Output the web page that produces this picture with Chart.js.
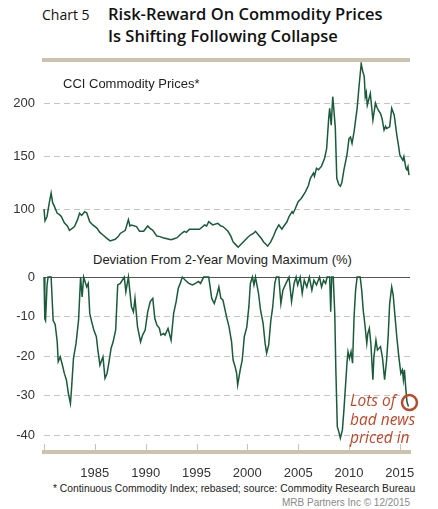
<!DOCTYPE html>
<html>
<head>
<meta charset="utf-8">
<script src="https://cdn.jsdelivr.net/npm/chart.js@4"></script>
<style>
  body { margin: 0; background: #fff; width: 438px; height: 509px; position: relative; overflow: hidden;
         font-family: "Liberation Sans", Arial, sans-serif; }
  .abs { position: absolute; white-space: nowrap; }
  #chartNo { left: 42px; top: 5px; font: 14px "Open Sans", sans-serif; color: #111; }
  #title { left: 108px; top: 3px; font: 600 16.5px/22px "Open Sans", sans-serif; color: #111; }
  #rule { left: 42px; top: 58px; width: 368px; height: 4px; background: #cbc3ad; }
  #topLabel { left: 63px; top: 76px; font-size: 13px; line-height: 15px; color: #222; }
  #botLabel { left: 93px; top: 252px; font-size: 13px; line-height: 15px; color: #222; }
  #note { left: 350px; top: 391px; font: italic 15.5px/18.5px "Open Sans", sans-serif; color: #b84a2c; }
  #foot { left: 53px; top: 482px; font-size: 10.3px; line-height: 13px; color: #222; }
  #credit { right: 28px; top: 496px; font-size: 10px; line-height: 13px; color: #8a8a8a; }
  canvas { position: absolute; left: 0; }
  #cciChart { top: 62px; }
  #devChart { top: 268px; }
</style>
</head>
<body>
<div class="abs" id="chartNo">Chart 5</div>
<div class="abs" id="title">Risk-Reward On Commodity Prices<br>Is Shifting Following Collapse</div>
<div class="abs" id="rule"></div>
<canvas id="cciChart" width="438" height="190"></canvas>
<canvas id="devChart" width="438" height="212"></canvas>
<div class="abs" id="topLabel">CCI Commodity Prices*</div>
<div class="abs" id="botLabel">Deviation From 2-Year Moving Maximum (%)</div>
<div class="abs" id="note">Lots of<br>bad news<br>priced in</div>
<div class="abs" id="foot">* Continuous Commodity Index; rebased; source: Commodity Research Bureau</div>
<div class="abs" id="credit">MRB Partners Inc © 12/2015</div>
<script>
// CCI commodity prices (rebased)
const cciYears = [1980.0, 1980.1, 1980.3, 1980.5, 1980.7, 1980.85, 1981.0, 1981.3, 1981.5, 1981.7,
  1982.0, 1982.3, 1982.5, 1982.8, 1983.0, 1983.3, 1983.5, 1983.7, 1984.0, 1984.2,
  1984.5, 1984.8, 1985.2, 1985.5, 1985.8, 1986.1, 1986.5, 1987.0, 1987.3, 1987.5,
  1988.0, 1988.3, 1988.45, 1988.6, 1989.1, 1989.4, 1989.8, 1990.2, 1990.4, 1990.7,
  1991.1, 1991.4, 1991.7, 1992.1, 1992.5, 1992.8, 1993.1, 1993.4, 1993.8, 1994.0,
  1994.3, 1994.8, 1995.3, 1995.8, 1996.0, 1996.2, 1996.6, 1997.1, 1997.4, 1997.6,
  1998.1, 1998.4, 1998.6, 1998.9, 1999.1, 1999.4, 1999.6, 2000.0, 2000.3, 2000.6,
  2000.8, 2001.1, 2001.4, 2001.6, 2001.8, 2002.0, 2002.3, 2002.6, 2002.8, 2003.1,
  2003.4, 2003.6, 2003.9, 2004.1, 2004.4, 2004.5, 2004.7, 2005.0, 2005.3, 2005.7,
  2006.0, 2006.2, 2006.5, 2006.6, 2006.8, 2007.0, 2007.3, 2007.6, 2007.8, 2008.0,
  2008.1, 2008.25, 2008.4, 2008.5, 2008.65, 2008.8, 2009.0, 2009.15, 2009.3, 2009.5,
  2009.8, 2010.0, 2010.15, 2010.3, 2010.5, 2010.8, 2011.0, 2011.2, 2011.35, 2011.5,
  2011.6, 2011.7, 2011.8, 2012.1, 2012.35, 2012.6, 2012.75, 2012.9, 2013.1, 2013.25,
  2013.45, 2013.6, 2013.7, 2014.0, 2014.2, 2014.45, 2014.7, 2014.9, 2015.0, 2015.3,
  2015.4, 2015.6, 2015.7, 2015.8, 2015.9];
const cciValues = [100, 89, 93, 105, 115, 106, 103, 96, 95, 93,
  87, 84, 80, 82, 83.5, 90, 96, 94, 97.5, 96.5,
  88, 85, 82, 78, 75.5, 73, 70, 71.5, 74, 77,
  80, 90, 84, 85, 83.5, 79, 79, 84, 82, 80,
  74.5, 74, 73, 72, 71, 72, 73, 76, 79, 78,
  81, 81, 81, 85, 84, 88, 85, 86.5, 84, 83.5,
  79, 74, 69, 66, 64, 67, 69, 73, 75.5, 77,
  79, 75.5, 72, 69, 67, 65, 69, 75, 80, 85,
  81, 84, 88, 93, 97.5, 96, 100, 107, 110, 116,
  122, 129, 134, 131, 138.5, 137, 140.5, 148, 157, 185,
  195, 179, 206, 195, 177.5, 129, 123, 121.5, 125, 137,
  151, 166.5, 168, 162, 173, 195, 217, 237, 230, 225,
  206, 210, 198, 209, 184, 200, 196, 193, 190, 185.5,
  174.5, 178, 176, 177.5, 195, 188.5, 170, 158, 151, 146,
  149.5, 138.5, 137, 140, 132];

// deviation from 2-year moving maximum (%)
const devYears = [1980.0, 1980.08, 1980.15, 1980.3, 1980.4, 1980.7, 1980.9, 1981.1, 1981.3, 1981.4,
  1981.6, 1981.85, 1982.0, 1982.2, 1982.4, 1982.6, 1982.7, 1982.9, 1983.15, 1983.4,
  1983.6, 1983.75, 1983.9, 1984.2, 1984.35, 1984.5, 1984.65, 1984.9, 1985.15, 1985.3,
  1985.5, 1985.8, 1986.0, 1986.2, 1986.4, 1986.6, 1986.8, 1987.05, 1987.25, 1987.5,
  1987.7, 1987.9, 1988.05, 1988.3, 1988.6, 1988.8, 1988.95, 1989.2, 1989.5, 1989.7,
  1989.95, 1990.2, 1990.45, 1990.7, 1990.9, 1991.1, 1991.35, 1991.5, 1991.75, 1991.9,
  1992.2, 1992.5, 1992.75, 1993.0, 1993.2, 1993.4, 1993.6, 1993.9, 1994.25, 1994.6,
  1994.9, 1995.2, 1995.4, 1995.7, 1996.2, 1996.5, 1996.75, 1997.0, 1997.2, 1997.4,
  1997.6, 1997.95, 1998.2, 1998.45, 1998.6, 1998.8, 1998.95, 1999.05, 1999.3, 1999.5,
  1999.7, 1999.95, 2000.15, 2000.3, 2000.5, 2000.65, 2000.8, 2001.1, 2001.3, 2001.55,
  2001.75, 2001.9, 2002.1, 2002.3, 2002.5, 2002.7, 2002.85, 2003.1, 2003.3, 2003.5,
  2003.8, 2004.1, 2004.35, 2004.6, 2004.8, 2004.95, 2005.2, 2005.4, 2005.6, 2005.85,
  2006.1, 2006.35, 2006.55, 2006.8, 2007.1, 2007.3, 2007.5, 2007.7, 2007.85, 2008.1,
  2008.2, 2008.3, 2008.45, 2008.6, 2008.7, 2008.85, 2009.0, 2009.15, 2009.35, 2009.5,
  2009.65, 2009.8, 2009.9, 2010.05, 2010.2, 2010.35, 2010.5, 2010.65, 2010.8, 2011.1,
  2011.25, 2011.4, 2011.55, 2011.75, 2011.85, 2012.0, 2012.15, 2012.35, 2012.45, 2012.65,
  2012.8, 2013.1, 2013.3, 2013.5, 2013.7, 2013.85, 2014.0, 2014.2, 2014.35, 2014.5,
  2014.7, 2014.9, 2015.1, 2015.25, 2015.35, 2015.45, 2015.6, 2015.7, 2015.85];
const devValues = [0, -10.5, -11, -2, 0, 0, -11, -12, -16.4, -21.4,
  -20.2, -22.7, -24.4, -26, -29.5, -32, -28.6, -20.6, -16.8, -10.9,
  0, -5, 0, -2.5, -1.6, -9.2, -10.9, -13.4, -15.1, -18.5,
  -22.3, -20.2, -25.6, -24.4, -21.4, -18, -16.4, -13.4, -2, -1.6,
  -0.8, 0, -3.7, 0, -7.5, -8.8, -5.4, -12.6, -16.4, -14.7,
  -13.4, -8.8, -6.2, -5.4, -10.5, -12.1, -13, -14.7, -14.3, -14.7,
  -13, -16, -9.2, -6.2, -2.9, -1.6, 0, -0.8, -1.6, -2,
  -1.6, -1.1, -1.6, 0, 0, -5.4, -6.7, -4.6, -2.5, -5.4,
  -5.8, -10, -12.6, -16.4, -21, -22.7, -24.4, -27.3, -23.5, -21,
  -15.1, -12.6, -7.5, -1.6, 0, -2, 0, -4.1, -8.4, -11.7,
  -16.8, -19.3, -17.2, -11.3, -7.5, -1.6, 0, 0, -6.7, -3.3,
  -1.6, 0, -6.2, -1.6, 0, -2, 0, -4.1, -0.8, -2.5,
  0, -3.3, -0.8, -2, 0, -2.5, -0.8, -1.6, 0, 0,
  -8.8, 0, 0, -9.2, -22.7, -37.9, -39.2, -40.8, -38.7, -33.7,
  -27.8, -21.8, -18.9, -20.6, -18.9, -21.8, -10, -3.3, 0, 0,
  -3.3, -8.4, -11.7, -16.8, -14.3, -13, -16.8, -26, -20.2, -16,
  -18.5, -17.6, -20.6, -26, -21, -15.1, -6.7, -2.5, -4.6, -9.2,
  -15.1, -20.2, -24.4, -23.5, -26, -23.5, -28.6, -31.6, -32.8];

const cciTicks = [100, 150, 200];
const devTicks = [0, -10, -20, -30, -40];
const yearTicks = [1980, 1985, 1990, 1995, 2000, 2005, 2010, 2015];

const lineColor = "#1b5a3a";
const gridColor = "#c4c4c4";
const tanColor = "#cbc3ad";
const noteColor = "#b84a2c";
const labelFont = { family: "'Liberation Sans', Arial, sans-serif", size: 13 };

Chart.defaults.devicePixelRatio = 1;
Chart.defaults.animation = false;

const toPoints = (xs, ys) => xs.map((x, i) => ({ x: x, y: ys[i] }));

function yAxis(min, max, ticks) {
  return {
    min: min,
    max: max,
    afterFit: (scale) => {
      scale.width = 44;
      // no extra room for half-labels above/below the plot
      scale.paddingTop = 0;
      scale.paddingBottom = 0;
    },
    afterBuildTicks: (axis) => { axis.ticks = ticks.map((v) => ({ value: v })); },
    grid: {
      drawTicks: false,
      color: (ctx) => (ctx.tick && ctx.tick.value === 0 ? "#555" : gridColor),
    },
    border: {
      display: false,
      dash: (ctx) => (ctx.tick && ctx.tick.value === 0 ? [] : [6, 4]),
    },
    ticks: { padding: 9, color: "#333", font: labelFont },
  };
}

const basePlugins = { legend: { display: false }, title: { display: false }, tooltip: { enabled: false } };

// Top panel: CCI
new Chart(document.getElementById("cciChart"), {
  type: "line",
  data: {
    datasets: [{
      data: toPoints(cciYears, cciValues),
      borderColor: lineColor,
      borderWidth: 1.5,
      pointRadius: 0,
      tension: 0,
      clip: false,
    }],
  },
  options: {
    responsive: false,
    layout: { autoPadding: false, padding: { left: 0, right: 28, top: 0, bottom: 0 } },
    plugins: basePlugins,
    scales: {
      x: { type: "linear", min: 1980, max: 2016, display: false },
      y: yAxis(59.5, 238.7, cciTicks),
    },
  },
});

// small tick marks standing on the x axis, plus the circle on the last point
const axisMarks = {
  id: "axisMarks",
  afterDatasetsDraw(chart) {
    const { ctx, chartArea } = chart;
    const xScale = chart.scales.x;
    ctx.save();
    ctx.strokeStyle = tanColor;
    ctx.lineWidth = 1;
    yearTicks.forEach((yr) => {
      const px = Math.round(xScale.getPixelForValue(yr)) + 0.5;
      ctx.beginPath();
      ctx.moveTo(px, chartArea.bottom - 8);
      ctx.lineTo(px, chartArea.bottom);
      ctx.stroke();
    });
    const pts = chart.getDatasetMeta(0).data;
    const last = pts[pts.length - 1];
    ctx.strokeStyle = noteColor;
    ctx.lineWidth = 2.5;
    ctx.beginPath();
    ctx.arc(last.x + 1, last.y - 4, 7.5, 0, Math.PI * 2);
    ctx.stroke();
    ctx.restore();
  },
};

// Bottom panel: deviation from 2-year max
new Chart(document.getElementById("devChart"), {
  type: "line",
  data: {
    datasets: [{
      data: toPoints(devYears, devValues),
      borderColor: lineColor,
      borderWidth: 1.5,
      pointRadius: 0,
      tension: 0,
      clip: false,
    }],
  },
  options: {
    responsive: false,
    layout: { autoPadding: false, padding: { left: 0, right: 28, top: 0, bottom: 0 } },
    plugins: basePlugins,
    scales: {
      x: {
        type: "linear",
        min: 1980,
        max: 2016,
        afterFit: (scale) => { scale.height = 28; },
        afterBuildTicks: (axis) => { axis.ticks = yearTicks.map((v) => ({ value: v })); },
        grid: { display: false, drawTicks: false },
        border: { display: true, color: tanColor, width: 4 },
        ticks: {
          padding: 14,
          color: "#333",
          font: labelFont,
          maxRotation: 0,
          callback: (v) => (v === 1980 ? "" : String(v)),
        },
      },
      y: yAxis(-44.3, 2.3, devTicks),
    },
  },
  plugins: [axisMarks],
});
</script>
</body>
</html>
